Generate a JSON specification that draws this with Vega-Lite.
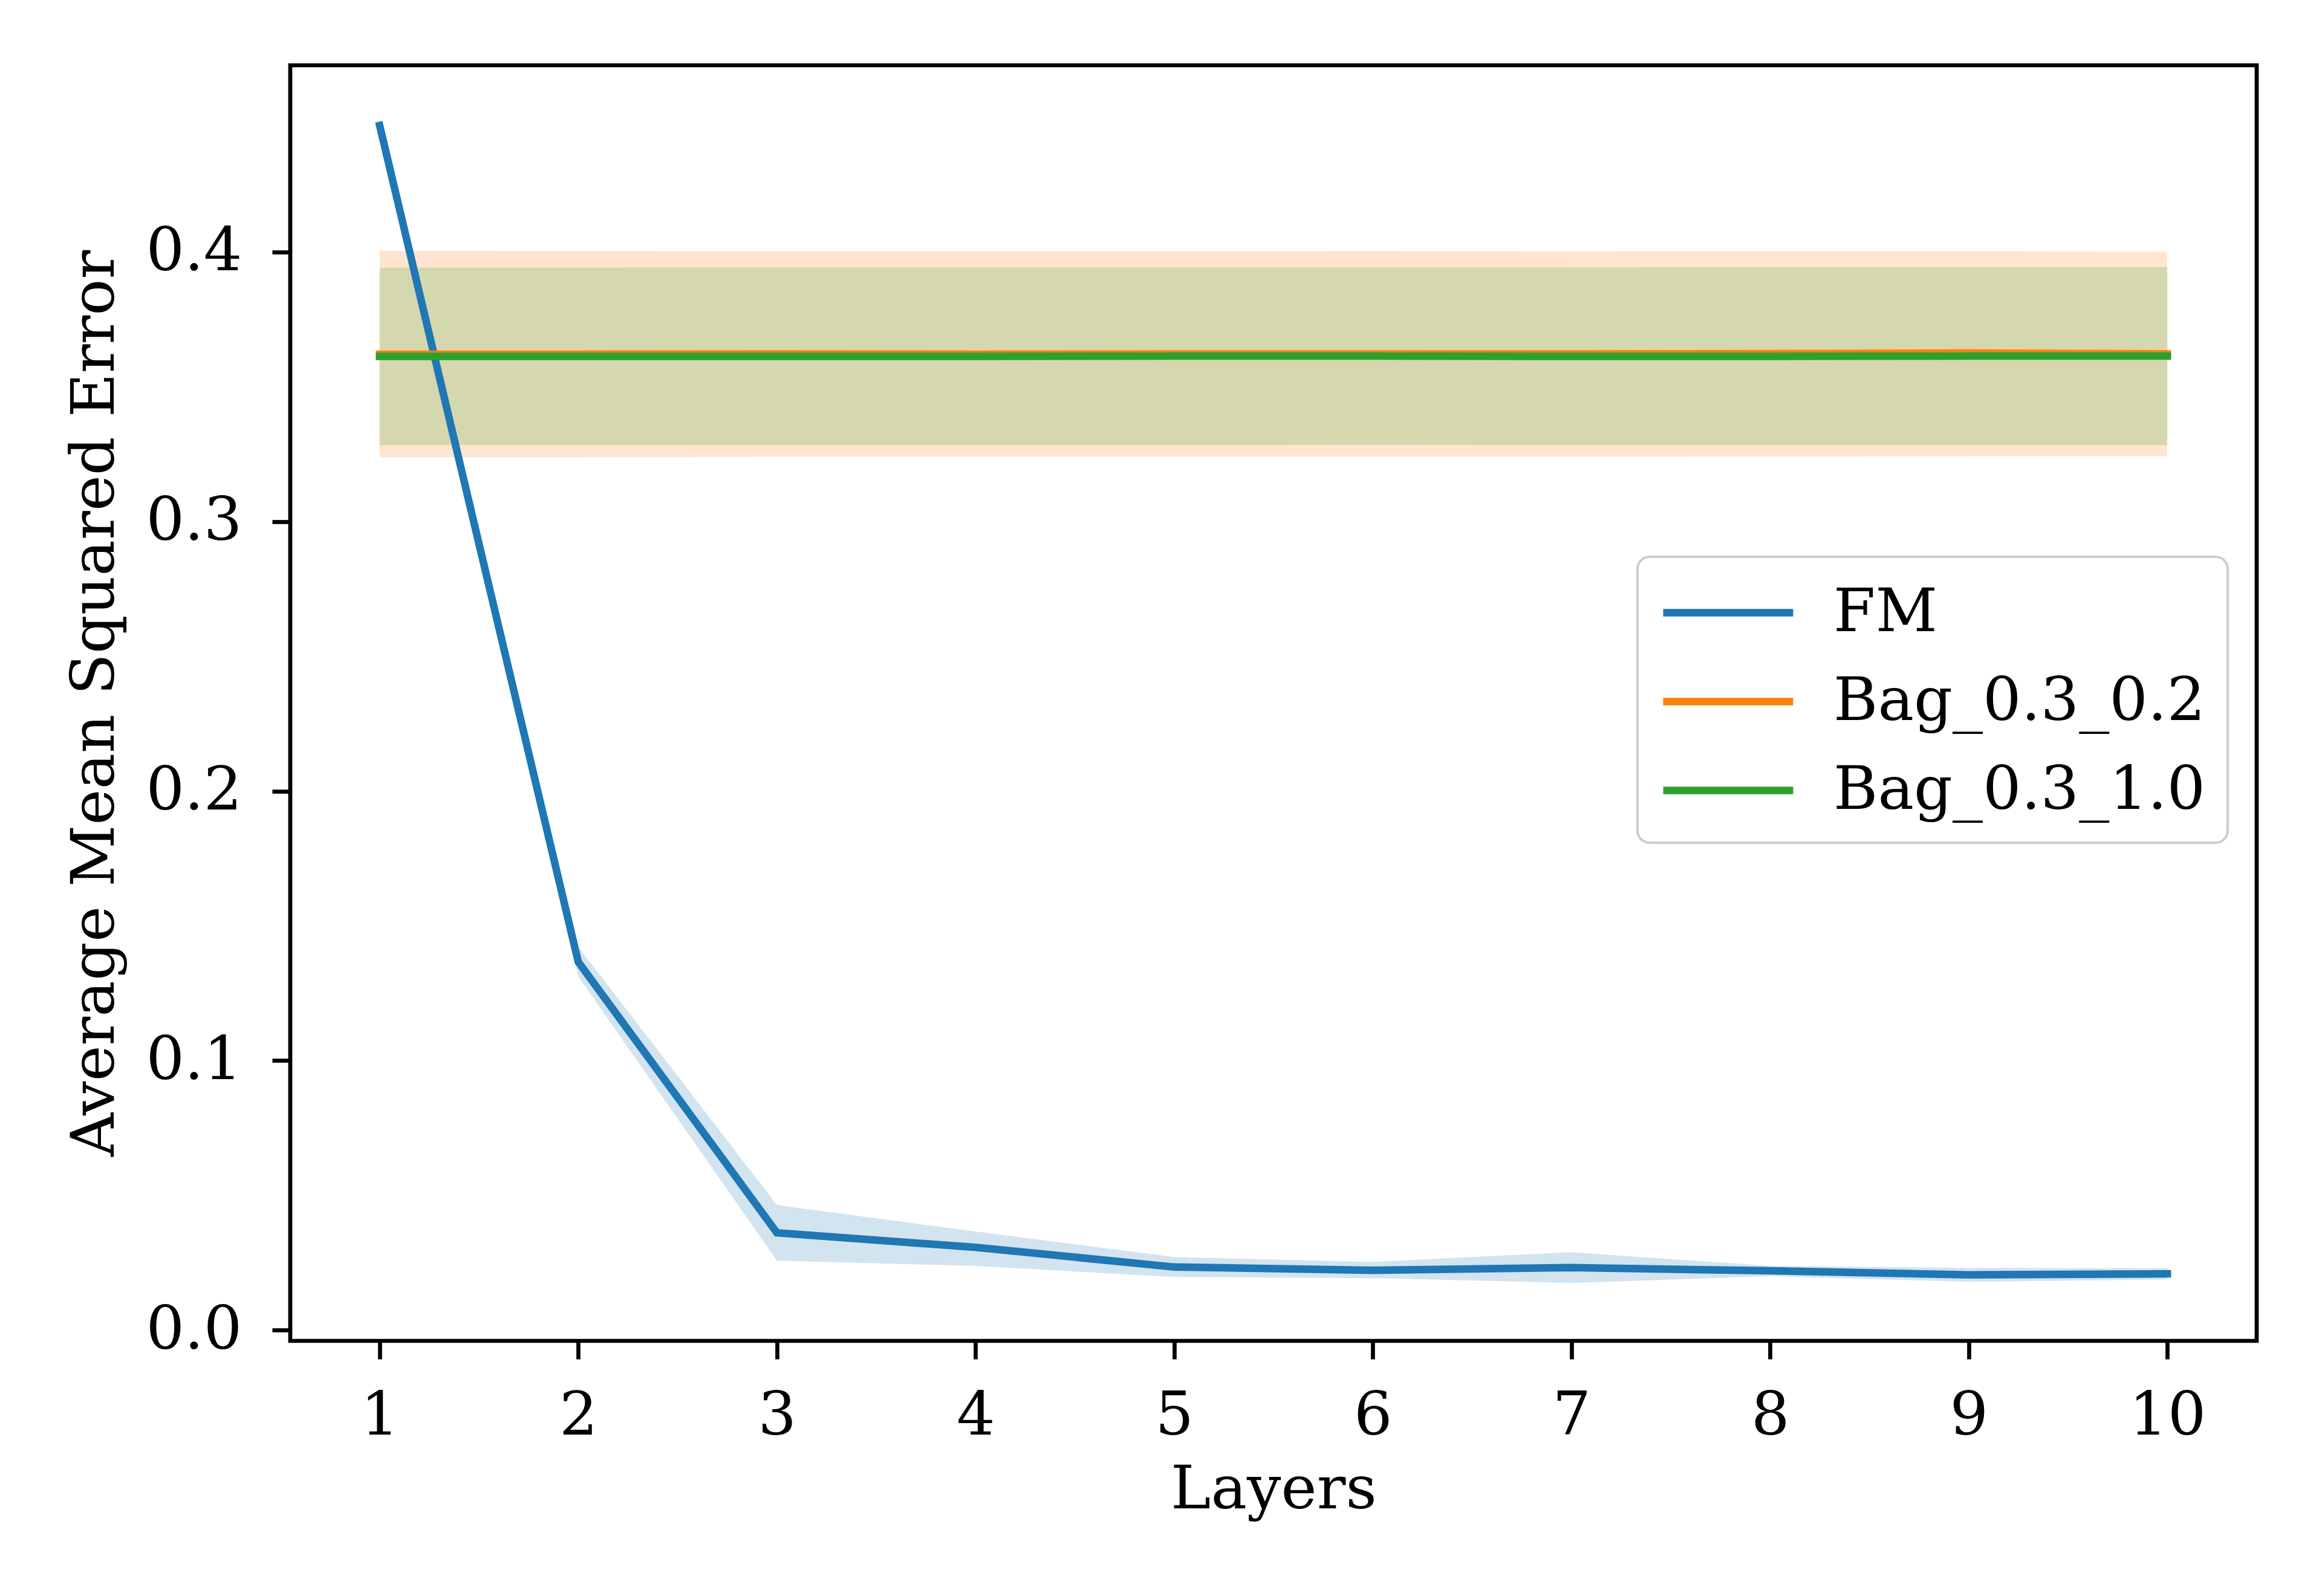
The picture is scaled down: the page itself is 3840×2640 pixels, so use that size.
{
  "$schema": "https://vega.github.io/schema/vega-lite/v6.json",
  "autosize": "none",
  "width": 3252,
  "height": 2110,
  "padding": {"left": 480, "top": 108, "right": 108, "bottom": 422},
  "background": "white",
  "config": {
    "font": "DejaVu Serif",
    "view": {"stroke": "black", "strokeWidth": 6.7},
    "axis": {
      "domain": false,
      "grid": false,
      "tickColor": "black",
      "tickWidth": 6.7,
      "tickSize": 30,
      "labelFont": "DejaVu Serif",
      "labelFontSize": 100,
      "labelColor": "black",
      "titleFont": "DejaVu Serif",
      "titleFontSize": 100,
      "titleFontWeight": "normal",
      "titleColor": "black"
    },
    "legend": {
      "labelFont": "DejaVu Serif",
      "labelFontSize": 100,
      "labelColor": "black"
    }
  },
  "data": {
    "values": [
      {"model": "FM", "layer": 1, "mean": 0.447, "lo": 0.4462, "hi": 0.4478},
      {"model": "FM", "layer": 2, "mean": 0.1366, "lo": 0.1312, "hi": 0.1422},
      {"model": "FM", "layer": 3, "mean": 0.0361, "lo": 0.0258, "hi": 0.0464},
      {"model": "FM", "layer": 4, "mean": 0.0307, "lo": 0.0238, "hi": 0.0366},
      {"model": "FM", "layer": 5, "mean": 0.0234, "lo": 0.0197, "hi": 0.0271},
      {"model": "FM", "layer": 6, "mean": 0.0222, "lo": 0.0193, "hi": 0.0253},
      {"model": "FM", "layer": 7, "mean": 0.0232, "lo": 0.0175, "hi": 0.0289},
      {"model": "FM", "layer": 8, "mean": 0.0220, "lo": 0.0200, "hi": 0.0238},
      {"model": "FM", "layer": 9, "mean": 0.0205, "lo": 0.0179, "hi": 0.0231},
      {"model": "FM", "layer": 10, "mean": 0.0209, "lo": 0.0188, "hi": 0.0229},
      {"model": "Bag_0.3_0.2", "layer": 1, "mean": 0.3621, "lo": 0.3239, "hi": 0.4005},
      {"model": "Bag_0.3_0.2", "layer": 2, "mean": 0.3621, "lo": 0.3239, "hi": 0.4004},
      {"model": "Bag_0.3_0.2", "layer": 3, "mean": 0.3622, "lo": 0.3240, "hi": 0.4003},
      {"model": "Bag_0.3_0.2", "layer": 4, "mean": 0.3621, "lo": 0.3240, "hi": 0.4003},
      {"model": "Bag_0.3_0.2", "layer": 5, "mean": 0.3622, "lo": 0.3240, "hi": 0.4003},
      {"model": "Bag_0.3_0.2", "layer": 6, "mean": 0.3622, "lo": 0.3240, "hi": 0.4004},
      {"model": "Bag_0.3_0.2", "layer": 7, "mean": 0.3622, "lo": 0.3240, "hi": 0.4002},
      {"model": "Bag_0.3_0.2", "layer": 8, "mean": 0.3623, "lo": 0.3241, "hi": 0.4003},
      {"model": "Bag_0.3_0.2", "layer": 9, "mean": 0.3625, "lo": 0.3242, "hi": 0.4003},
      {"model": "Bag_0.3_0.2", "layer": 10, "mean": 0.3622, "lo": 0.3242, "hi": 0.4000},
      {"model": "Bag_0.3_1.0", "layer": 1, "mean": 0.3613, "lo": 0.3284, "hi": 0.3942},
      {"model": "Bag_0.3_1.0", "layer": 2, "mean": 0.3613, "lo": 0.3284, "hi": 0.3942},
      {"model": "Bag_0.3_1.0", "layer": 3, "mean": 0.3613, "lo": 0.3284, "hi": 0.3943},
      {"model": "Bag_0.3_1.0", "layer": 4, "mean": 0.3613, "lo": 0.3284, "hi": 0.3943},
      {"model": "Bag_0.3_1.0", "layer": 5, "mean": 0.3614, "lo": 0.3284, "hi": 0.3943},
      {"model": "Bag_0.3_1.0", "layer": 6, "mean": 0.3614, "lo": 0.3285, "hi": 0.3943},
      {"model": "Bag_0.3_1.0", "layer": 7, "mean": 0.3613, "lo": 0.3284, "hi": 0.3943},
      {"model": "Bag_0.3_1.0", "layer": 8, "mean": 0.3613, "lo": 0.3284, "hi": 0.3944},
      {"model": "Bag_0.3_1.0", "layer": 9, "mean": 0.3614, "lo": 0.3284, "hi": 0.3944},
      {"model": "Bag_0.3_1.0", "layer": 10, "mean": 0.3614, "lo": 0.3284, "hi": 0.3944}
    ]
  },
  "encoding": {
    "x": {
      "field": "layer", "type": "quantitative",
      "scale": {"domain": [0.55, 10.45], "nice": false, "zero": false},
      "axis": {"values": [1,2,3,4,5,6,7,8,9,10], "title": "Layers", "labelPadding": 45, "titlePadding": 23}
    },
    "color": {
      "field": "model", "type": "nominal",
      "scale": {"domain": ["FM", "Bag_0.3_0.2", "Bag_0.3_1.0"], "range": ["#1f77b4", "#ff7f0e", "#2ca02c"]},
      "legend": {
        "title": null,
        "orient": "none",
        "legendX": 2228,
        "legendY": 813,
        "symbolType": "M-1,0H3.3",
        "symbolSize": 10000,
        "symbolStrokeWidth": 12.5,
        "labelOffset": 175,
        "labelLimit": 2000,
        "rowPadding": 40,
        "padding": 36,
        "fillColor": "rgba(255,255,255,0.8)",
        "strokeColor": "#cccccc",
        "cornerRadius": 20,
        "labelFontSize": 100,
        "encode": {"legend": {"update": {"strokeWidth": {"value": 4}}}}
      }
    }
  },
  "layer": [
    {
      "transform": [{"filter": "datum.model === 'FM'"}],
      "mark": {"type": "area", "opacity": 0.2},
      "encoding": {
        "y": {"field": "lo", "type": "quantitative"},
        "y2": {"field": "hi"}
      }
    },
    {
      "transform": [{"filter": "datum.model === 'Bag_0.3_0.2'"}],
      "mark": {"type": "area", "opacity": 0.2},
      "encoding": {
        "y": {"field": "lo", "type": "quantitative"},
        "y2": {"field": "hi"}
      }
    },
    {
      "transform": [{"filter": "datum.model === 'Bag_0.3_1.0'"}],
      "mark": {"type": "area", "opacity": 0.2},
      "encoding": {
        "y": {"field": "lo", "type": "quantitative"},
        "y2": {"field": "hi"}
      }
    },
    {
      "transform": [{"filter": "datum.model === 'FM'"}],
      "mark": {"type": "line", "strokeWidth": 12.5, "strokeCap": "square"},
      "encoding": {
        "y": {
          "field": "mean", "type": "quantitative",
          "scale": {"domain": [-0.004, 0.4693], "nice": false, "zero": false},
          "axis": {"values": [0, 0.1, 0.2, 0.3, 0.4], "format": ".1f", "title": "Average Mean Squared Error", "labelPadding": 50, "titlePadding": 72}
        }
      }
    },
    {
      "transform": [{"filter": "datum.model === 'Bag_0.3_0.2'"}],
      "mark": {"type": "line", "strokeWidth": 12.5, "strokeCap": "square"},
      "encoding": {
        "y": {"field": "mean", "type": "quantitative"}
      }
    },
    {
      "transform": [{"filter": "datum.model === 'Bag_0.3_1.0'"}],
      "mark": {"type": "line", "strokeWidth": 12.5, "strokeCap": "square"},
      "encoding": {
        "y": {"field": "mean", "type": "quantitative"}
      }
    }
  ]
}
